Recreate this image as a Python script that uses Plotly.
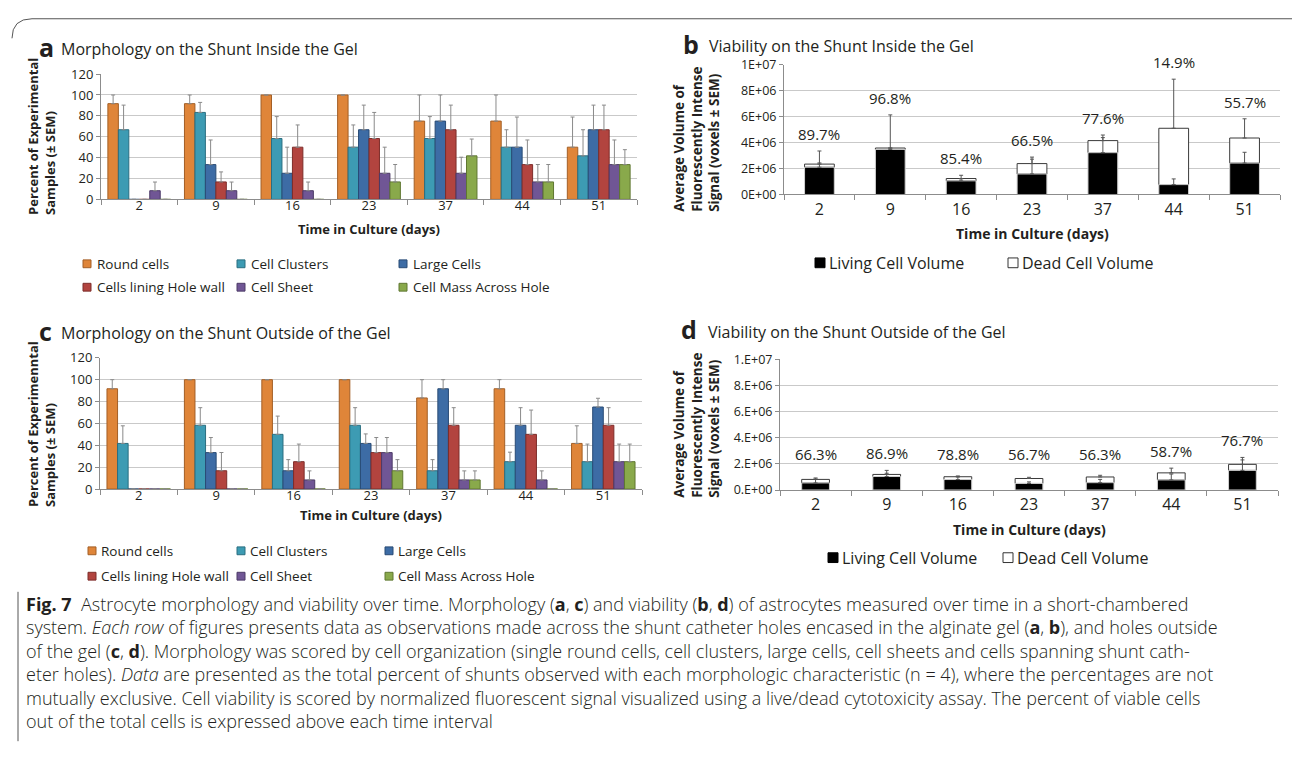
import plotly.graph_objects as go

# ---------------------------------------------------------------- data
days = ["2", "9", "16", "23", "37", "44", "51"]
morph_names = ["Round cells", "Cell Clusters", "Large Cells",
               "Cells lining Hole wall", "Cell Sheet", "Cell Mass Across Hole"]

# a: morphology inside the gel (% of experimental samples)
in_round = [91.7, 91.7, 100, 100, 75, 75, 50]
in_clusters = [66.7, 83.3, 58.3, 50, 58.3, 50, 41.7]
in_large = [0, 33.3, 25, 66.7, 75, 50, 66.7]
in_lining = [0, 16.7, 50, 58.3, 66.7, 33.3, 66.7]
in_sheet = [8.3, 8.3, 8.3, 25, 25, 16.7, 33.3]
in_mass = [0, 0, 0, 16.7, 41.7, 16.7, 33.3]
in_round_sem = [8.3, 8.3, 0, 0, 25, 25, 28.9]
in_clusters_sem = [23.6, 9.6, 21.0, 21.3, 21.0, 16.7, 25.0]
in_large_sem = [0, 23.6, 25.0, 23.6, 25.0, 28.9, 23.6]
in_lining_sem = [0, 9.6, 21.3, 25.0, 23.6, 23.6, 23.6]
in_sheet_sem = [8.3, 8.3, 8.3, 25.0, 15.4, 16.7, 23.6]
in_mass_sem = [0, 0, 0, 16.7, 16.1, 16.7, 14.3]

# c: morphology outside the gel (% of experimental samples)
out_round = [91.7, 100, 100, 100, 83.3, 91.7, 41.7]
out_clusters = [41.7, 58.3, 50, 58.3, 16.7, 25, 25]
out_large = [0, 33.3, 16.7, 41.7, 91.7, 58.3, 75]
out_lining = [0, 16.7, 25, 33.3, 58.3, 50, 58.3]
out_sheet = [0, 0, 8.3, 33.3, 8.3, 8.3, 25]
out_mass = [0, 0, 0, 16.7, 8.3, 0, 25]
out_round_sem = [8.3, 0, 0, 0, 16.7, 8.3, 16.1]
out_clusters_sem = [16.1, 16.1, 16.7, 16.1, 10.2, 8.7, 16.1]
out_large_sem = [0, 13.8, 10.2, 8.7, 8.3, 16.1, 8.0]
out_lining_sem = [0, 16.7, 16.1, 13.8, 16.1, 22.2, 16.1]
out_sheet_sem = [0, 0, 8.3, 13.8, 8.3, 8.3, 16.1]
out_mass_sem = [0, 0, 0, 10.2, 8.3, 0, 16.1]

# b: viability inside the gel (voxels)
in_living = [2.10e6, 3.47e6, 1.05e6, 1.58e6, 3.22e6, 0.76e6, 2.42e6]
in_dead = [0.24e6, 0.11e6, 0.18e6, 0.80e6, 0.93e6, 4.34e6, 1.93e6]
in_living_sem = [0.33e6, 0.10e6, 0.15e6, 1.14e6, 1.16e6, 0.44e6, 0.83e6]
in_total_sem = [1.01e6, 2.55e6, 0.25e6, 0.50e6, 0.43e6, 3.78e6, 1.48e6]
in_viable_pct = ["89.7%", "96.8%", "85.4%", "66.5%", "77.6%", "14.9%", "55.7%"]

# d: viability outside the gel (voxels)
out_living = [0.54e6, 1.03e6, 0.80e6, 0.50e6, 0.56e6, 0.77e6, 1.50e6]
out_dead = [0.27e6, 0.16e6, 0.215e6, 0.38e6, 0.435e6, 0.54e6, 0.46e6]
out_living_sem = [0.30e6, 0.25e6, 0.20e6, 0.12e6, 0.25e6, 0.45e6, 0.80e6]
out_total_sem = [0.11e6, 0.31e6, 0.06e6, 0.09e6, 0.13e6, 0.36e6, 0.53e6]
out_viable_pct = ["66.3%", "86.9%", "78.8%", "56.7%", "56.3%", "58.7%", "76.7%"]

b_tick_vals = [0, 2e6, 4e6, 6e6, 8e6, 1e7]
b_tick_text = ["0E+00", "2E+06", "4E+06", "6E+06", "8E+06", "1E+07"]
d_tick_text = ["0.E+00", "2.E+06", "4.E+06", "6.E+06", "8.E+06", "1.E+07"]

# ---------------------------------------------------------------- style
W, H = 1292, 758
CHART_FONT = "Open Sans, sans-serif"
CAP_FONT = "Open Sans, sans-serif"
TXT = "#231f20"
GRID = "#c9c9c9"
AXIS = "#8c8c8c"
FILL = ["#df8539", "#3d9bb3", "#3d6ca5", "#b2443f", "#705695", "#89a94b"]
EDGE = ["#a35f26", "#2a6e80", "#294b75", "#7d2d2a", "#4c3a67", "#5f7731"]
CAT_RANGE = [-0.5, len(days) - 0.5]


def fx(x):
    return x / W


def fy(y):
    return 1 - y / H


def upper_only(sems):
    # no cap is drawn where the SEM is zero
    return [s if s > 0 else None for s in sems]


fig = go.Figure()

morph_in = [in_round, in_clusters, in_large, in_lining, in_sheet, in_mass]
morph_in_sem = [in_round_sem, in_clusters_sem, in_large_sem, in_lining_sem, in_sheet_sem, in_mass_sem]
morph_out = [out_round, out_clusters, out_large, out_lining, out_sheet, out_mass]
morph_out_sem = [out_round_sem, out_clusters_sem, out_large_sem, out_lining_sem, out_sheet_sem, out_mass_sem]

for axis_id, values, sems in (("", morph_in, morph_in_sem), ("3", morph_out, morph_out_sem)):
    for k, name in enumerate(morph_names):
        fig.add_trace(go.Bar(
            x=days, y=values[k], name=name, showlegend=False,
            xaxis="x" + axis_id, yaxis="y" + axis_id,
            offsetgroup=str(k),
            marker=dict(color=FILL[k], line=dict(color=EDGE[k], width=1)),
            error_y=dict(type="data", array=upper_only(sems[k]), symmetric=False,
                         arrayminus=[0] * len(days), color="#8a8a8a",
                         thickness=1, width=2),
        ))

for axis_id, living, dead, lsem, tsem, bw in (
        ("2", in_living, in_dead, in_living_sem, in_total_sem, 0.42),
        ("4", out_living, out_dead, out_living_sem, out_total_sem, 0.39)):
    fig.add_trace(go.Bar(
        x=days, y=dead, base=living, name="Dead Cell Volume", showlegend=False,
        xaxis="x" + axis_id, yaxis="y" + axis_id, offsetgroup="v",
        width=bw, offset=-bw / 2,
        marker=dict(color="white", line=dict(color="#3a3a3a", width=1)),
        error_y=dict(type="data", array=tsem, symmetric=False,
                     arrayminus=[0] * len(days), color="#555555",
                     thickness=1, width=2),
    ))
    fig.add_trace(go.Bar(
        x=days, y=living, name="Living Cell Volume", showlegend=False,
        xaxis="x" + axis_id, yaxis="y" + axis_id, offsetgroup="v",
        width=bw, offset=-bw / 2,
        marker=dict(color="black", line=dict(color="#d0d0d0", width=1)),
        error_y=dict(type="data", array=lsem, symmetric=False,
                     arrayminus=[0] * len(days), color="#555555",
                     thickness=1, width=2),
    ))

annotations = []
shapes = []

# viability percentages above each time point
for axis_id, living, dead, lsem, tsem, labels, floor in (
        ("2", in_living, in_dead, in_living_sem, in_total_sem, in_viable_pct, 0),
        ("4", out_living, out_dead, out_living_sem, out_total_sem, out_viable_pct, 1.47e6)):
    for i in range(len(days)):
        top = max(living[i] + dead[i] + tsem[i], living[i] + lsem[i], floor)
        annotations.append(dict(
            x=i, y=top, xref="x" + axis_id, yref="y" + axis_id,
            text=labels[i], showarrow=False, yanchor="bottom", yshift=5,
            font=dict(family=CHART_FONT, size=15, color=TXT)))


def axis_x(domain, anchor, size, standoff=0):
    return dict(domain=domain, anchor=anchor, type="category", range=CAT_RANGE,
                showline=True, linecolor=AXIS, linewidth=1,
                ticks="outside", tickson="boundaries", ticklen=5,
                tickcolor=AXIS, showgrid=False, tickangle=0,
                ticklabelstandoff=standoff,
                tickfont=dict(family=CHART_FONT, size=size, color=TXT))


def axis_y(domain, anchor, rng, **kw):
    d = dict(domain=domain, anchor=anchor, range=rng,
             showline=True, linecolor=AXIS, linewidth=1,
             ticks="outside", ticklen=4, tickcolor=AXIS,
             showgrid=True, gridcolor=GRID, gridwidth=1, zeroline=False)
    d.update(kw)
    return d


layout = dict(
    width=W, height=H, margin=dict(l=0, r=0, t=0, b=0),
    paper_bgcolor="white", plot_bgcolor="white",
    barmode="group", bargap=0.18, bargroupgap=0,
    showlegend=False,
    xaxis=axis_x([fx(101), fx(637)], "y", 13, -6),
    yaxis=axis_y([fy(195), fy(66.7)], "x", [0, 120], dtick=20,
                 tickfont=dict(family=CHART_FONT, size=13, color=TXT)),
    xaxis2=axis_x([fx(784), fx(1280)], "y2", 16),
    yaxis2=axis_y([fy(190), fy(57)], "x2", [0, 1e7], tickvals=b_tick_vals,
                  ticktext=b_tick_text,
                  tickfont=dict(family=CHART_FONT, size=12.5, color=TXT)),
    xaxis3=axis_x([fx(100), fx(642)], "y3", 13, -6),
    yaxis3=axis_y([fy(491.7), fy(357.3)], "x3", [0, 120], dtick=20,
                  tickfont=dict(family=CHART_FONT, size=13, color=TXT)),
    xaxis4=axis_x([fx(780), fx(1278)], "y4", 16),
    yaxis4=axis_y([fy(492.7), fy(358.7)], "x4", [0, 1e7], tickvals=b_tick_vals,
                  ticktext=d_tick_text,
                  tickfont=dict(family=CHART_FONT, size=12.5, color=TXT)),
)


def note(x, y, text, size, xanchor="left", bold=False, angle=0,
         family=CHART_FONT, weight=None, yanchor="middle"):
    annotations.append(dict(
        x=fx(x), y=fy(y), xref="paper", yref="paper", text=text,
        showarrow=False, xanchor=xanchor, yanchor=yanchor, textangle=angle,
        align="left",
        font=dict(family=family, size=size, color=TXT,
                  weight=weight if weight else ("bold" if bold else "normal"))))


# panel titles
note(37, 39, "a", 25, bold=True)
note(59, 41, "Morphology on the Shunt Inside the Gel", 16)
note(681, 36, "b", 25, bold=True)
note(707, 38, "Viability on the Shunt Inside the Gel", 16)
note(37, 330, "c", 25, bold=True)
note(59, 332, "Morphology on the Shunt Outside of the Gel", 16)
note(679, 328, "d", 25, bold=True)
note(706, 331, "Viability on the Shunt Outside of the Gel", 16)

# axis titles
note(42, 131, "Percent of Experimental<br>Samples (± SEM)", 13, "center", True, -90)
note(42, 425, "Percent of Experimenntal<br>Samples (± SEM)", 13, "center", True, -90)
note(697, 134, "Average Volume of<br>Fluorescently Intense<br>Signal (voxels ± SEM)", 13.5, "center", True, -90)
note(697, 427, "Average Volume of<br>Fluorescently Intense<br>Signal (voxels ± SEM)", 13.5, "center", True, -90)
note(369, 225, "Time in Culture (days)", 13, "center", True)
note(371, 518, "Time in Culture (days)", 13, "center", True)
note(1032, 230, "Time in Culture (days)", 14, "center", True)
note(1029, 533, "Time in Culture (days)", 14, "center", True)


def swatch(x, y, size, fill, edge):
    shapes.append(dict(type="rect", xref="paper", yref="paper",
                       x0=fx(x), x1=fx(x + size), y0=fy(y + size / 2), y1=fy(y - size / 2),
                       fillcolor=fill, line=dict(color=edge, width=1)))


# morphology legends (two rows of three)
for rows, cols, text_dx in (((261, 285), (83, 237, 399), 12), ((555, 581), (88, 237, 385), 11)):
    for k, name in enumerate(morph_names):
        r, c = divmod(k, 3)
        swatch(cols[c], rows[r], 8, FILL[k], EDGE[k])
        note(cols[c] + text_dx, rows[r], name, 13.5)

# viability legends
for y, xl, xd in ((260, 815, 1008), (562, 828, 1003)):
    swatch(xl, y, 10, "black", "black")
    note(xl + 12, y, "Living Cell Volume", 16)
    swatch(xd, y, 10, "white", "#333333")
    note(xd + 12, y, "Dead Cell Volume", 16)

# caption, one block of pre-broken lines
caption_lines = [
    "<b>Fig. 7</b>  Astrocyte morphology and viability over time. Morphology (<b>a</b>, <b>c</b>) and viability (<b>b</b>, <b>d</b>) of astrocytes measured over time in a short-chambered",
    "system. <i>Each row</i> of figures presents data as observations made across the shunt catheter holes encased in the alginate gel (<b>a</b>, <b>b</b>), and holes outside",
    "of the gel (<b>c</b>, <b>d</b>). Morphology was scored by cell organization (single round cells, cell clusters, large cells, cell sheets and cells spanning shunt cath-",
    "eter holes). <i>Data</i> are presented as the total percent of shunts observed with each morphologic characteristic (n = 4), where the percentages are not",
    "mutually exclusive. Cell viability is scored by normalized fluorescent signal visualized using a live/dead cytotoxicity assay. The percent of viable cells",
    "out of the total cells is expressed above each time interval",
]
note(24, 595, "<br>".join(caption_lines), 18, family=CAP_FONT, weight=300, yanchor="top")

# outer frame and caption rule
shapes.append(dict(type="path", xref="paper", yref="paper",
                   path=f"M {fx(12)},{fy(30)} Q {fx(12)},{fy(10)} {fx(32)},{fy(10)} L {fx(1292)},{fy(10)}",
                   line=dict(color="#555555", width=1)))
shapes.append(dict(type="line", xref="paper", yref="paper",
                   x0=fx(18), x1=fx(18), y0=fy(597), y1=fy(750),
                   line=dict(color="#555555", width=1)))

layout["annotations"] = annotations
layout["shapes"] = shapes
fig.update_layout(**layout)
fig.write_html("out.html")
